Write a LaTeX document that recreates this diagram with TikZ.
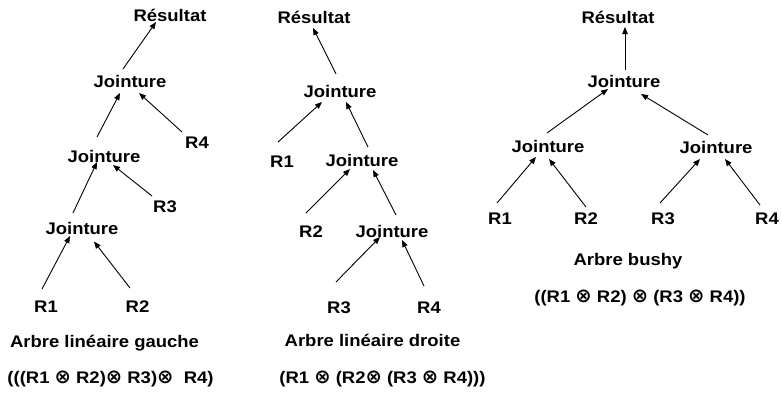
\documentclass[tikz,border=0pt]{standalone}
\usepackage{fontspec}
\setmainfont{Liberation Sans}[FakeStretch=1.1]
\newfontfamily\symf{DejaVu Sans}
\usetikzlibrary{arrows.meta}
% circled times, sized to the capital height of the labels
\newcommand{\ox}{{\symf\bfseries\fontsize{19.5}{20}\selectfont ⊗}}
\tikzset{
  lbl/.style={inner sep=0pt, anchor=base, font=\fontsize{16.8}{20}\selectfont\bfseries},
  arr/.style={line width=0.9pt, -{Triangle[length=7pt,width=5.5pt]}},
}
\begin{document}
\begin{tikzpicture}[x=1pt,y=-1pt]
\useasboundingbox[fill=white] (0,0) rectangle (781,394);

% ---- left-deep tree ----
\node[lbl] (res1) at (170,21) {Résultat};
\node[lbl] (j1) at (130,87) {Jointure};
\node[lbl] (r4a) at (197,148) {R4};
\node[lbl] (j2) at (104,162) {Jointure};
\node[lbl] (r3a) at (165,212) {R3};
\node[lbl] (j3) at (82,234) {Jointure};
\node[lbl] (r1a) at (46,312) {R1};
\node[lbl] (r2a) at (137.5,312) {R2};
\node[lbl] (t1) at (104.5,347) {Arbre linéaire gauche};
\node[lbl] (f1) at (110.5,383) {(((R1 \ox{} R2)\ox{} R3)\ox\ \ R4)};

\draw[arr] ([shift={(-7,-18)}]j1.base) -- ([shift={(-14,1)}]res1.base);
\draw[arr] ([shift={(-15,-16)}]r4a.base) -- ([shift={(9,6)}]j1.base);
\draw[arr] ([shift={(-7,-25)}]j2.base) -- ([shift={(-10,6)}]j1.base);
\draw[arr] ([shift={(-13,-16)}]r3a.base) -- ([shift={(9,3)}]j2.base);
\draw[arr] ([shift={(-9,-21)}]j3.base) -- ([shift={(-7,0)}]j2.base);
\draw[arr] ([shift={(-4,-23)}]r1a.base) -- ([shift={(-12,2)}]j3.base);
\draw[arr] ([shift={(-7.5,-24)}]r2a.base) -- ([shift={(12,7.5)}]j3.base);

% ---- right-deep tree ----
\node[lbl] (res2) at (314,23) {Résultat};
\node[lbl] (j4) at (340,97) {Jointure};
\node[lbl] (r1b) at (282,167) {R1};
\node[lbl] (j5) at (362,166) {Jointure};
\node[lbl] (r2b) at (311,237) {R2};
\node[lbl] (j6) at (392,237) {Jointure};
\node[lbl] (r3b) at (339,313) {R3};
\node[lbl] (r4b) at (429,313) {R4};
\node[lbl] (t2) at (372.5,346) {Arbre linéaire droite};
\node[lbl] (f2) at (382.5,383) {(R1 \ox{} (R2\ox{} (R3 \ox{} R4)))};

\draw[arr] ([shift={(-4,-23)}]j4.base) -- ([shift={(-1,5)}]res2.base);
\draw[arr] ([shift={(-4,-25)}]r1b.base) -- ([shift={(-18,5)}]j4.base);
\draw[arr] ([shift={(6,-19)}]j5.base) -- ([shift={(6,5)}]j4.base);
\draw[arr] ([shift={(-5,-24)}]r2b.base) -- ([shift={(-12,3)}]j5.base);
\draw[arr] ([shift={(4,-22)}]j6.base) -- ([shift={(11,4)}]j5.base);
\draw[arr] ([shift={(-3,-31)}]r3b.base) -- ([shift={(-12,0)}]j6.base);
\draw[arr] ([shift={(-5,-27)}]r4b.base) -- ([shift={(10,3)}]j6.base);

% ---- bushy tree ----
\node[lbl] (res3) at (618,23) {Résultat};
\node[lbl] (j7) at (624,87) {Jointure};
\node[lbl] (j8) at (548,152) {Jointure};
\node[lbl] (j9) at (716,153) {Jointure};
\node[lbl] (r1c) at (500,224) {R1};
\node[lbl] (r2c) at (586,224) {R2};
\node[lbl] (r3c) at (663,224) {R3};
\node[lbl] (r4c) at (767,224) {R4};
\node[lbl] (t3) at (628,265) {Arbre bushy};
\node[lbl] (f3) at (640,302) {((R1 \ox{} R2) \ox{} (R3 \ox{} R4))};

\draw[arr] ([shift={(1,-17)}]j7.base) -- ([shift={(7,4)}]res3.base);
\draw[arr] ([shift={(-1,-19)}]j8.base) -- ([shift={(-16,2)}]j7.base);
\draw[arr] ([shift={(-8,-18)}]j9.base) -- ([shift={(17,7)}]j7.base);
\draw[arr] ([shift={(-3,-21)}]r1c.base) -- ([shift={(-12,5)}]j8.base);
\draw[arr] ([shift={(0,-17)}]r2c.base) -- ([shift={(1,7)}]j8.base);
\draw[arr] ([shift={(-3,-21)}]r3c.base) -- ([shift={(-16,6)}]j9.base);
\draw[arr] ([shift={(-7,-19)}]r4c.base) -- ([shift={(9,6)}]j9.base);
\end{tikzpicture}
\end{document}
